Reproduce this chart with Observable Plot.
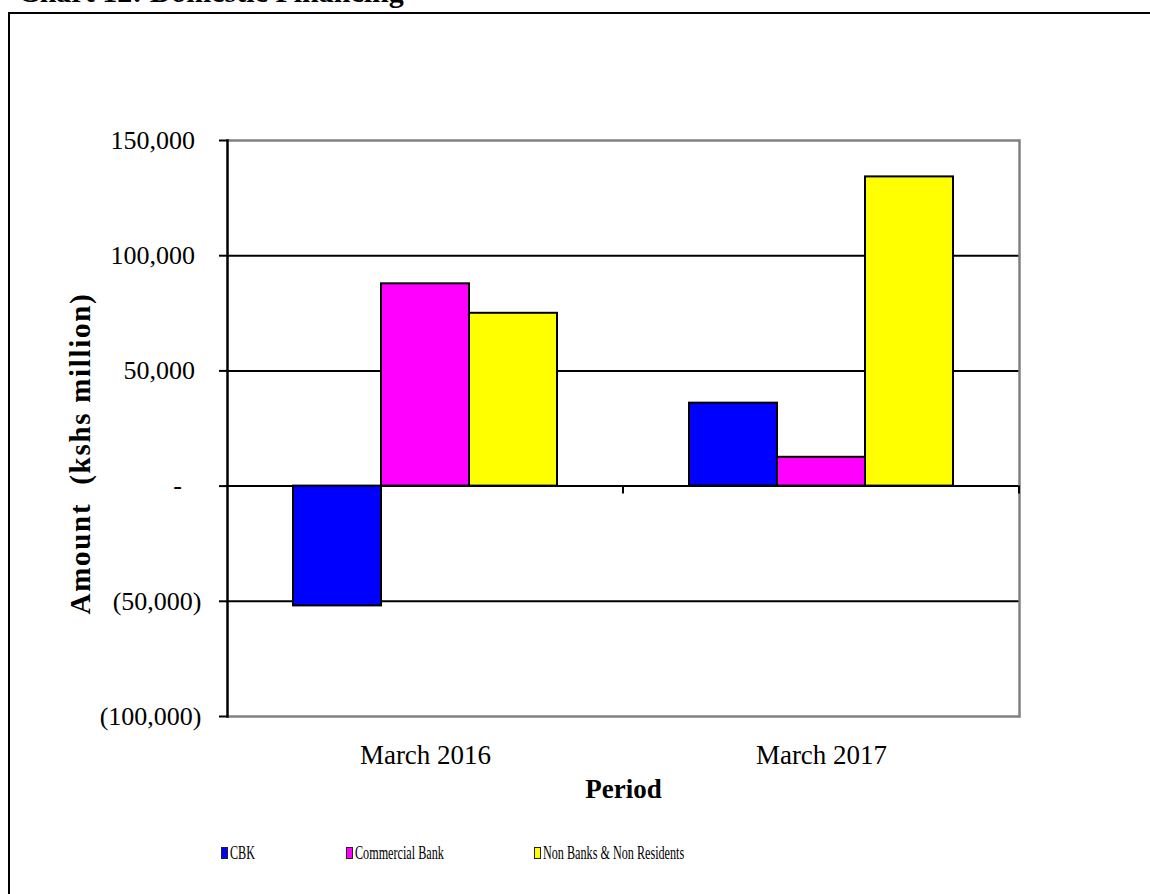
<!DOCTYPE html>
<html>
<head>
<meta charset="utf-8">
<script src="https://cdn.jsdelivr.net/npm/d3@7"></script>
<script src="https://cdn.jsdelivr.net/npm/@observablehq/plot@0.6"></script>
<style>
  html, body { margin: 0; padding: 0; background: white; overflow: hidden; width: 1150px; height: 894px; }
  #wrap { position: relative; width: 1150px; height: 894px; overflow: hidden; font-family: "Liberation Serif", "Times New Roman", serif; }
  #border { position: absolute; left: 8px; top: 12px; width: 1300px; height: 1000px; border: 2px solid #000; box-sizing: border-box; }
  #title { position: absolute; left: 18px; top: -25px; font-size: 30px; line-height: 34px; font-weight: bold; white-space: nowrap; }
  #chart { position: absolute; left: 0; top: 0; }
  #chart svg { background: transparent !important; }
  g[aria-label="fx-axis label"] { font-weight: bold; }
  #chart g[aria-label="y-title"] text, #chart text[transform*="rotate(-90"] { letter-spacing: 1.7px; }
  .leg { position: absolute; top: 844px; height: 20px; }
  .sw { position: absolute; top: 3px; width: 7px; height: 12px; border: 1.5px solid #222; box-sizing: border-box; }
  .lt { position: absolute; left: 9px; top: -2px; font-size: 19px; white-space: nowrap; transform: scaleX(0.64); transform-origin: left center; }
</style>
</head>
<body>
<div id="wrap">
  <div id="border"></div>
  <div id="chart"></div>
  <div id="title">Chart 12: Domestic Financing</div>
</div>
<script>
// ---- data ----
const periods = ["March 2016", "March 2017"];
const series = ["CBK", "Commercial Bank", "Non Banks & Non Residents"];
const seriesColors = ["#0000FF", "#FF00FF", "#FFFF00"];
const cbkValues = [-52000, 36000];
const commercialBankValues = [87800, 12500];
const nonBanksValues = [75000, 134200];
const yTicks = [-100000, -50000, 0, 50000, 100000, 150000];
const yTickLabels = ["(100,000)", "(50,000)", "-", "50,000", "100,000", "150,000"];
const gridValues = [-50000, 0, 50000, 100000];
const yTitle = "Amount  (kshs million)";
const xTitle = "Period";

// ---- table ----
const valueSets = [cbkValues, commercialBankValues, nonBanksValues];
const rows = [];
periods.forEach((p, i) => series.forEach((s, j) => rows.push({period: p, series: s, value: valueSets[j][i]})));

const font = "Liberation Serif, Times New Roman, serif";
const NB = "\u00a0";
function fmtTick(d) {
  const lab = yTickLabels[yTicks.indexOf(d)];
  if (lab === "-") return lab + NB + NB + NB;
  if (lab.endsWith(")")) return lab;
  return lab + NB;
}

const chart = Plot.plot({
  width: 1150,
  height: 820,
  marginLeft: 226,
  marginRight: 131,
  marginTop: 140,
  marginBottom: 104,
  style: {fontFamily: font, background: "transparent", color: "black", overflow: "visible"},
  fx: {domain: periods, padding: 0},
  x: {domain: series, paddingInner: 0, paddingOuter: 0.745, axis: null},
  y: {domain: [-100000, 150000]},
  color: {domain: series, range: seriesColors},
  marks: [
    Plot.ruleY(gridValues, {stroke: "#000", strokeWidth: 2}),
    Plot.ruleY([150000, -100000], {stroke: "#808080", strokeWidth: 2.5}),
    Plot.frame({anchor: "right", facetAnchor: "right", stroke: "#808080", strokeWidth: 2.5}),
    Plot.barY(rows, {fx: "period", x: "series", y: "value", fill: "series", stroke: "#000", strokeWidth: 2}),
    Plot.frame({anchor: "left", facetAnchor: "left", stroke: "#000", strokeWidth: 2.5}),
    (index, scales, values, dimensions) => {
      const xr = scales.x.range()[1];
      const y0 = scales.y(0);
      return d3.create("svg:line")
        .attr("x1", xr).attr("x2", xr).attr("y1", y0).attr("y2", y0 + 8)
        .attr("stroke", "#000").attr("stroke-width", 2).node();
    },
    Plot.axisY(yTicks, {
      anchor: "left", tickSize: 8, tickPadding: 18, strokeWidth: 2,
      tickFormat: fmtTick, fontSize: 26, fontFamily: font, label: null
    }),
    Plot.text([yTitle], {
      frameAnchor: "left", facetAnchor: "left", rotate: -90, lineAnchor: "top", textAnchor: "middle",
      dx: -158, dy: 25, fontSize: 29, fontWeight: "bold", fontFamily: font,
      fill: "black", ariaLabel: "y-title"
    }),
    Plot.axisFx({
      anchor: "bottom", tickSize: 0, tickPadding: 28, fontSize: 27, fontFamily: font,
      label: xTitle, labelAnchor: "center", labelOffset: 81, labelArrow: "none"
    })
  ]
});
document.getElementById("chart").appendChild(chart);

// ---- legend ----
const legendLeft = [221, 346, 534];
const wrap = document.getElementById("wrap");
series.forEach((s, i) => {
  const item = document.createElement("div");
  item.className = "leg";
  item.style.left = legendLeft[i] + "px";
  const sw = document.createElement("div");
  sw.className = "sw";
  sw.style.background = seriesColors[i];
  const t = document.createElement("div");
  t.className = "lt";
  t.textContent = s;
  item.appendChild(sw);
  item.appendChild(t);
  wrap.appendChild(item);
});
</script>
</body>
</html>
